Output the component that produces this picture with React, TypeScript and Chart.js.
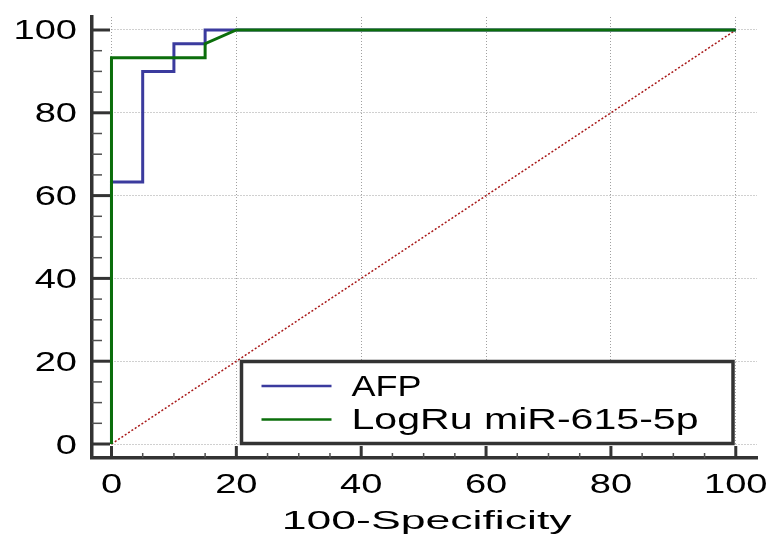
import React, { useEffect, useRef } from 'react';
import { Chart, registerables } from 'chart.js';

Chart.register(...registerables);

// ---- data ----
const xTickValues = [0, 20, 40, 60, 80, 100];
const yTickValues = [0, 20, 40, 60, 80, 100];
const minorTickValues = [5, 10, 15, 25, 30, 35, 45, 50, 55, 65, 70, 75, 85, 90, 95];

const afpX = [0, 0, 5, 5, 10, 10, 15, 15, 100];
const afpY = [0, 63.3, 63.3, 90, 90, 96.7, 96.7, 100, 100];

const mirX = [0, 0, 15, 15, 20, 100];
const mirY = [0, 93.3, 93.3, 96.7, 100, 100];

const refX = [0, 100];
const refY = [0, 100];

const seriesNames = ['AFP', 'LogRu miR-615-5p'];
const xTitle = '100-Specificity';

const FONT = '"Liberation Sans", Arial, sans-serif';

function stretchedText(ctx: any, text: string, x: number, y: number, align: string, size: number, sx: number) {
  ctx.save();
  ctx.font = `${size}px ${FONT}`;
  ctx.textAlign = align;
  ctx.textBaseline = 'alphabetic';
  ctx.translate(x, y);
  ctx.scale(sx, 1);
  ctx.fillText(text, 0, 0);
  ctx.restore();
}

function fittedText(ctx: any, text: string, x: number, y: number, align: string, size: number, width: number) {
  ctx.save();
  ctx.font = `${size}px ${FONT}`;
  const w = ctx.measureText(text).width;
  ctx.restore();
  stretchedText(ctx, text, x, y, align, size, width / w);
}

const decorPlugin = {
  id: 'decor',
  afterDraw(chart: any) {
    const { ctx, chartArea: ca } = chart;
    const xs = chart.scales.x;
    const ys = chart.scales.y;
    const line = (x1: number, y1: number, x2: number, y2: number, w: number, c: string) => {
      ctx.save();
      ctx.lineWidth = w;
      ctx.strokeStyle = c;
      ctx.lineCap = 'butt';
      ctx.beginPath();
      ctx.moveTo(x1, y1);
      ctx.lineTo(x2, y2);
      ctx.stroke();
      ctx.restore();
    };
    // inward ticks
    yTickValues.forEach((v) => {
      const p = ys.getPixelForValue(v);
      line(ca.left, p, ca.left + 18, p, 3, '#333333');
    });
    minorTickValues.forEach((v) => {
      const p = ys.getPixelForValue(v);
      line(ca.left, p, ca.left + 10, p, 1.5, '#505050');
    });
    xTickValues.forEach((v) => {
      const p = xs.getPixelForValue(v);
      line(p, ca.bottom, p, ca.bottom - 12, 3, '#333333');
    });
    minorTickValues.forEach((v) => {
      const p = xs.getPixelForValue(v);
      line(p, ca.bottom, p, ca.bottom - 5, 1.5, '#505050');
    });

    // tick labels
    ctx.save();
    ctx.fillStyle = '#000000';
    yTickValues.forEach((v) => {
      const p = ys.getPixelForValue(v);
      stretchedText(ctx, String(v), ca.left - 15, p + 9.5, 'right', 28, 1.36);
    });
    xTickValues.forEach((v) => {
      const p = xs.getPixelForValue(v);
      stretchedText(ctx, String(v), p, ca.bottom + 35, 'center', 28, 1.36);
    });
    // axis title
    const cx = (xs.getPixelForValue(0) + xs.getPixelForValue(100)) / 2 + 3;
    fittedText(ctx, xTitle, cx, ca.bottom + 71, 'center', 26, 290);
    ctx.restore();

    // legend box
    const bx = 241.5, by = 361.5, bw = 491.5, bh = 82;
    ctx.save();
    ctx.fillStyle = '#ffffff';
    ctx.fillRect(bx, by, bw, bh);
    ctx.lineWidth = 3.5;
    ctx.strokeStyle = '#333333';
    ctx.strokeRect(bx, by, bw, bh);
    const rows = [386, 419.5];
    const widths = [70, 347];
    seriesNames.forEach((name, i) => {
      const ds = chart.data.datasets.find((d: any) => d.label === name);
      line(bx + 20, rows[i], bx + 90, rows[i], 2.5, ds.borderColor);
      ctx.fillStyle = '#000000';
      fittedText(ctx, name, bx + 110, rows[i] + 9.5, 'left', 29, widths[i]);
    });
    ctx.restore();
  },
};

export default function App() {
  const ref = useRef<HTMLCanvasElement | null>(null);
  useEffect(() => {
    if (!ref.current) return;
    const toPts = (xs: number[], ys: number[]) => xs.map((x, i) => ({ x, y: ys[i] }));
    const chart = new Chart(ref.current, {
      type: 'line',
      data: {
        datasets: [
          {
            label: 'LogRu miR-615-5p',
            data: toPts(mirX, mirY),
            borderColor: '#0b6e0b',
            borderWidth: 3,
            pointRadius: 0,
            fill: false,
            tension: 0,
            borderJoinStyle: 'miter',
            order: 0,
          },
          {
            label: 'AFP',
            data: toPts(afpX, afpY),
            borderColor: '#3b3b9e',
            borderWidth: 3,
            pointRadius: 0,
            fill: false,
            tension: 0,
            borderJoinStyle: 'miter',
            order: 1,
          },
          {
            label: 'Reference',
            data: toPts(refX, refY),
            borderColor: '#a81818',
            borderWidth: 1.5,
            borderDash: [2, 2],
            pointRadius: 0,
            fill: false,
            tension: 0,
            order: 2,
          },
        ],
      } as any,
      options: {
        animation: false,
        responsive: false,
        layout: { padding: { left: 92, top: 17, right: 16, bottom: 77 } },
        plugins: { legend: { display: false }, tooltip: { enabled: false } },
        scales: {
          x: {
            type: 'linear',
            min: -3.12,
            max: 103.4,
            afterBuildTicks: (s: any) => {
              s.ticks = xTickValues.map((v) => ({ value: v }));
            },
            ticks: { display: false },
            grid: { color: '#a0a0a0', lineWidth: 1, drawTicks: false },
            border: { display: true, color: '#333333', width: 3.5, dash: [1, 2] },
          },
          y: {
            type: 'linear',
            min: -3.38,
            max: 103.14,
            afterBuildTicks: (s: any) => {
              s.ticks = yTickValues.map((v) => ({ value: v }));
            },
            ticks: { display: false },
            grid: { color: '#a0a0a0', lineWidth: 1, drawTicks: false },
            border: { display: true, color: '#333333', width: 3.5, dash: [1, 2] },
          },
        },
      } as any,
      plugins: [decorPlugin],
    });
    return () => chart.destroy();
  }, []);
  return (
    <div style={{ position: 'fixed', left: 0, top: 0, width: 773, height: 535, background: '#fff' }}>
      <canvas ref={ref} width={773} height={535} style={{ display: 'block', width: 773, height: 535 }} />
    </div>
  );
}
